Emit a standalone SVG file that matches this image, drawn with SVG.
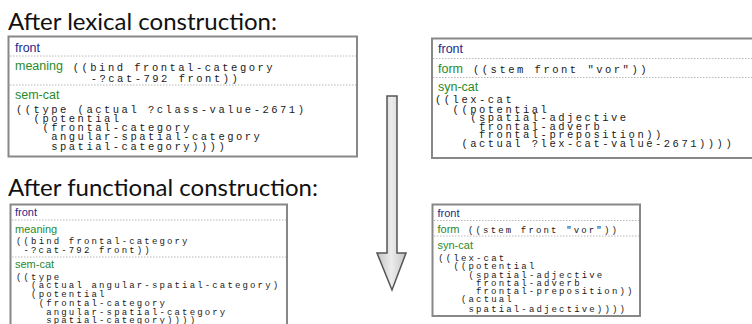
<svg xmlns="http://www.w3.org/2000/svg" width="752" height="324" viewBox="0 0 752 324">
<style>
.box{fill:#fff;stroke:#888;stroke-width:2}
.sep{stroke:#b8b8b8;stroke-width:1;stroke-dasharray:1.5 1.5}
.title{font-family:Lato,"Open Sans","Liberation Sans",sans-serif;font-size:24px;fill:#111}
.nm{font-family:"Liberation Sans",Arial,sans-serif;fill:#232a8a}
.lb{font-family:"Liberation Sans",Arial,sans-serif;fill:#2a8a2a}
.big{font-size:12.5px}
.sm{font-size:11px}
.m1{font-family:"Liberation Mono","DejaVu Sans Mono",monospace;font-size:10.5px;letter-spacing:2.5px;fill:#1a1a1a}
.m2{font-family:"Liberation Mono","DejaVu Sans Mono",monospace;font-size:9px;letter-spacing:2.15px;fill:#1a1a1a}
.arrow{fill:url(#ag);stroke:#555;stroke-width:1.5;stroke-linejoin:miter}
</style>
<defs>
<linearGradient id="ag" x1="0" x2="1" y1="0" y2="0">
<stop offset="0" stop-color="#c4c4c4"/>
<stop offset="0.5" stop-color="#ececec"/>
<stop offset="1" stop-color="#c4c4c4"/>
</linearGradient>
</defs>
<rect width="752" height="324" fill="#fff"/>
<g id="titles">
<text class="title" x="8" y="30" textLength="269" lengthAdjust="spacingAndGlyphs">After lexical construction:</text>
<text class="title" x="8" y="196" textLength="310" lengthAdjust="spacingAndGlyphs">After functional construction:</text>
</g>
<g id="node-lexical-sem">
<rect class="box" x="8.5" y="36.5" width="348.5" height="120"/>
<line class="sep" x1="10" y1="56" x2="356" y2="56"/>
<line class="sep" x1="10" y1="85" x2="356" y2="85"/>
<text class="nm big" x="15" y="51.5">front</text>
<text class="lb big" x="15" y="70">meaning</text>
<text class="m1" x="72.7" y="71">((bind frontal-category</text>
<text class="m1" x="90.7" y="82">-?cat-792 front))</text>
<text class="lb big" x="15" y="98.5">sem-cat</text>
<text class="m1" x="16" y="113">((type (actual ?class-value-2671)</text>
<text class="m1" x="33.6" y="122">(potential</text>
<text class="m1" x="42.4" y="131">(frontal-category</text>
<text class="m1" x="51.2" y="140">angular-spatial-category</text>
<text class="m1" x="51.2" y="149.5">spatial-category))))</text>
</g>
<g id="node-lexical-syn">
<rect class="box" x="432" y="38.5" width="330" height="119.5"/>
<line class="sep" x1="433" y1="58.5" x2="752" y2="58.5"/>
<line class="sep" x1="433" y1="77.5" x2="752" y2="77.5"/>
<text class="nm big" x="438" y="53">front</text>
<text class="lb big" x="438" y="72.5">form</text>
<text class="m1" x="473" y="73">((stem front "vor"))</text>
<text class="lb big" x="438" y="91">syn-cat</text>
<text class="m1" x="435" y="103.3">((lex-cat</text>
<text class="m1" x="452.6" y="112.5">((potential</text>
<text class="m1" x="470.2" y="121">(spatial-adjective</text>
<text class="m1" x="479" y="129.5">frontal-adverb</text>
<text class="m1" x="479" y="138.3">frontal-preposition))</text>
<text class="m1" x="461.4" y="147.3">(actual ?lex-cat-value-2671))))</text>
</g>
<g id="node-functional-sem">
<rect class="box" x="10.5" y="204.5" width="276.5" height="130"/>
<line class="sep" x1="12" y1="220" x2="286" y2="220"/>
<line class="sep" x1="12" y1="257" x2="286" y2="257"/>
<text class="nm sm" x="15" y="216">front</text>
<text class="lb sm" x="15" y="232.5">meaning</text>
<text class="m2" x="16" y="244">((bind frontal-category</text>
<text class="m2" x="23.5" y="252.5">-?cat-792 front))</text>
<text class="lb sm" x="15" y="268">sem-cat</text>
<text class="m2" x="16" y="280">((type</text>
<text class="m2" x="31.1" y="288">(actual angular-spatial-category)</text>
<text class="m2" x="31.1" y="297">(potential</text>
<text class="m2" x="38.7" y="305.5">(frontal-category</text>
<text class="m2" x="46.2" y="314.5">angular-spatial-category</text>
<text class="m2" x="46.2" y="322.5">spatial-category))))</text>
</g>
<g id="node-functional-syn">
<rect class="box" x="432.5" y="204.5" width="207.5" height="111.5"/>
<line class="sep" x1="434" y1="220.5" x2="639" y2="220.5"/>
<line class="sep" x1="434" y1="236" x2="639" y2="236"/>
<text class="nm sm" x="437.5" y="216.5">front</text>
<text class="lb sm" x="437.5" y="232.5">form</text>
<text class="m2" x="468" y="233">((stem front "vor"))</text>
<text class="lb sm" x="437.5" y="248.5">syn-cat</text>
<text class="m2" x="438.3" y="260.5">((lex-cat</text>
<text class="m2" x="453.4" y="269">((potential</text>
<text class="m2" x="468.5" y="277.5">(spatial-adjective</text>
<text class="m2" x="476" y="285.7">frontal-adverb</text>
<text class="m2" x="476" y="294">frontal-preposition))</text>
<text class="m2" x="461" y="302.3">(actual</text>
<text class="m2" x="468.5" y="312">spatial-adjective))))</text>
</g>
<g id="connectors">
<path class="arrow" d="M387,96 L397,96 L397,253 L406,253 L392,290 L377,253 L387,253 Z"/>
</g>
</svg>
